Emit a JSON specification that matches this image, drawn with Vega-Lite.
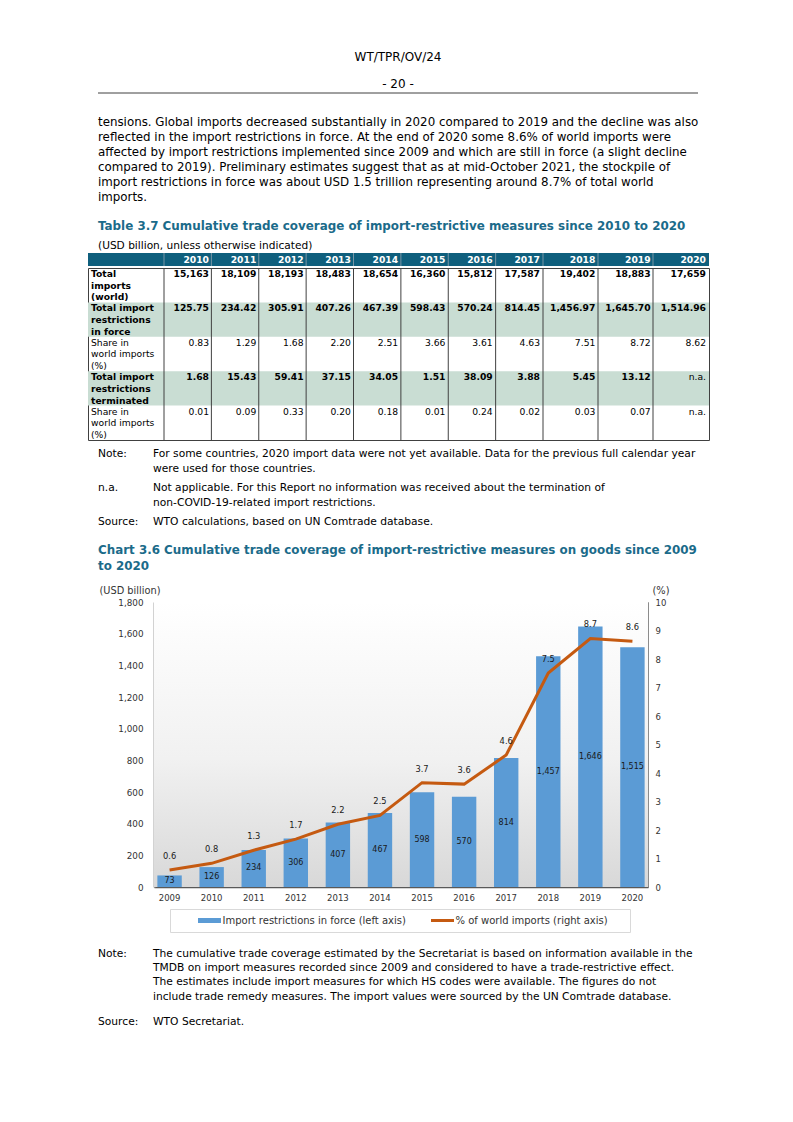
{
  "$schema": "https://vega.github.io/schema/vega-lite/v6.json",
  "background": "white",
  "padding": {"left": 87, "top": 0, "right": 0, "bottom": 0},
  "spacing": 0,
  "config": {
    "font": "DejaVu Sans",
    "view": {"stroke": null},
    "concat": {"spacing": 0},
    "text": {"font": "DejaVu Sans"}
  },
  "datasets": {
    "blank": [{}],
    "page": [
      {"block": "hdr", "line": 0, "part": "body", "text": "WT/TPR/OV/24"},
      {"block": "hdr", "line": 1, "part": "body", "text": "- 20 -"},
      {"block": "para", "line": 0, "part": "body", "text": "tensions. Global imports decreased substantially in 2020 compared to 2019 and the decline was also"},
      {"block": "para", "line": 1, "part": "body", "text": "reflected in the import restrictions in force. At the end of 2020 some 8.6% of world imports were"},
      {"block": "para", "line": 2, "part": "body", "text": "affected by import restrictions implemented since 2009 and which are still in force (a slight decline"},
      {"block": "para", "line": 3, "part": "body", "text": "compared to 2019). Preliminary estimates suggest that as at mid-October 2021, the stockpile of"},
      {"block": "para", "line": 4, "part": "body", "text": "import restrictions in force was about USD 1.5 trillion representing around 8.7% of total world"},
      {"block": "para", "line": 5, "part": "body", "text": "imports."},
      {"block": "ttitle", "line": 0, "part": "body", "text": "Table 3.7 Cumulative trade coverage of import-restrictive measures since 2010 to 2020"},
      {"block": "units", "line": 0, "part": "body", "text": "(USD billion, unless otherwise indicated)"},
      {"block": "n1", "line": 0, "part": "label", "text": "Note:"},
      {"block": "n1", "line": 0, "part": "body", "text": "For some countries, 2020 import data were not yet available. Data for the previous full calendar year"},
      {"block": "n1", "line": 1, "part": "body", "text": "were used for those countries."},
      {"block": "n2", "line": 0, "part": "label", "text": "n.a."},
      {"block": "n2", "line": 0, "part": "body", "text": "Not applicable. For this Report no information was received about the termination of"},
      {"block": "n2", "line": 1, "part": "body", "text": "non-COVID-19-related import restrictions."},
      {"block": "n3", "line": 0, "part": "label", "text": "Source:"},
      {"block": "n3", "line": 0, "part": "body", "text": "WTO calculations, based on UN Comtrade database."},
      {"block": "ctitle", "line": 0, "part": "body", "text": "Chart 3.6 Cumulative trade coverage of import-restrictive measures on goods since 2009"},
      {"block": "ctitle", "line": 1, "part": "body", "text": "to 2020"},
      {"block": "cn1", "line": 0, "part": "label", "text": "Note:"},
      {"block": "cn1", "line": 0, "part": "body", "text": "The cumulative trade coverage estimated by the Secretariat is based on information available in the"},
      {"block": "cn1", "line": 1, "part": "body", "text": "TMDB on import measures recorded since 2009 and considered to have a trade-restrictive effect."},
      {"block": "cn1", "line": 2, "part": "body", "text": "The estimates include import measures for which HS codes were available. The figures do not"},
      {"block": "cn1", "line": 3, "part": "body", "text": "include trade remedy measures. The import values were sourced by the UN Comtrade database."},
      {"block": "cn2", "line": 0, "part": "label", "text": "Source:"},
      {"block": "cn2", "line": 0, "part": "body", "text": "WTO Secretariat."}
    ],
    "years": [
      {"year": 2010}, {"year": 2011}, {"year": 2012}, {"year": 2013}, {"year": 2014}, {"year": 2015},
      {"year": 2016}, {"year": 2017}, {"year": 2018}, {"year": 2019}, {"year": 2020}
    ],
    "tableRows": [
      {"row": "r1", "metric": "imports", "label": "Total\nimports\n(world)"},
      {"row": "r2", "metric": "restrictions", "label": "Total import\nrestrictions\nin force"},
      {"row": "r3", "metric": "share", "label": "Share in\nworld imports\n(%)"},
      {"row": "r4", "metric": "restrictions", "label": "Total import\nrestrictions\nterminated"},
      {"row": "r5", "metric": "share", "label": "Share in\nworld imports\n(%)"}
    ],
    "tableCells": [
      {"row": "r1", "year": 2010, "value": "15,163"}, {"row": "r1", "year": 2011, "value": "18,109"}, {"row": "r1", "year": 2012, "value": "18,193"}, {"row": "r1", "year": 2013, "value": "18,483"}, {"row": "r1", "year": 2014, "value": "18,654"}, {"row": "r1", "year": 2015, "value": "16,360"}, {"row": "r1", "year": 2016, "value": "15,812"}, {"row": "r1", "year": 2017, "value": "17,587"}, {"row": "r1", "year": 2018, "value": "19,402"}, {"row": "r1", "year": 2019, "value": "18,883"}, {"row": "r1", "year": 2020, "value": "17,659"},
      {"row": "r2", "year": 2010, "value": "125.75"}, {"row": "r2", "year": 2011, "value": "234.42"}, {"row": "r2", "year": 2012, "value": "305.91"}, {"row": "r2", "year": 2013, "value": "407.26"}, {"row": "r2", "year": 2014, "value": "467.39"}, {"row": "r2", "year": 2015, "value": "598.43"}, {"row": "r2", "year": 2016, "value": "570.24"}, {"row": "r2", "year": 2017, "value": "814.45"}, {"row": "r2", "year": 2018, "value": "1,456.97"}, {"row": "r2", "year": 2019, "value": "1,645.70"}, {"row": "r2", "year": 2020, "value": "1,514.96"},
      {"row": "r3", "year": 2010, "value": "0.83"}, {"row": "r3", "year": 2011, "value": "1.29"}, {"row": "r3", "year": 2012, "value": "1.68"}, {"row": "r3", "year": 2013, "value": "2.20"}, {"row": "r3", "year": 2014, "value": "2.51"}, {"row": "r3", "year": 2015, "value": "3.66"}, {"row": "r3", "year": 2016, "value": "3.61"}, {"row": "r3", "year": 2017, "value": "4.63"}, {"row": "r3", "year": 2018, "value": "7.51"}, {"row": "r3", "year": 2019, "value": "8.72"}, {"row": "r3", "year": 2020, "value": "8.62"},
      {"row": "r4", "year": 2010, "value": "1.68"}, {"row": "r4", "year": 2011, "value": "15.43"}, {"row": "r4", "year": 2012, "value": "59.41"}, {"row": "r4", "year": 2013, "value": "37.15"}, {"row": "r4", "year": 2014, "value": "34.05"}, {"row": "r4", "year": 2015, "value": "1.51"}, {"row": "r4", "year": 2016, "value": "38.09"}, {"row": "r4", "year": 2017, "value": "3.88"}, {"row": "r4", "year": 2018, "value": "5.45"}, {"row": "r4", "year": 2019, "value": "13.12"}, {"row": "r4", "year": 2020, "value": "n.a."},
      {"row": "r5", "year": 2010, "value": "0.01"}, {"row": "r5", "year": 2011, "value": "0.09"}, {"row": "r5", "year": 2012, "value": "0.33"}, {"row": "r5", "year": 2013, "value": "0.20"}, {"row": "r5", "year": 2014, "value": "0.18"}, {"row": "r5", "year": 2015, "value": "0.01"}, {"row": "r5", "year": 2016, "value": "0.24"}, {"row": "r5", "year": 2017, "value": "0.02"}, {"row": "r5", "year": 2018, "value": "0.03"}, {"row": "r5", "year": 2019, "value": "0.07"}, {"row": "r5", "year": 2020, "value": "n.a."}
    ],
    "chart": [
      {"year": "2009", "restrictions": 73, "share": 0.6},
      {"year": "2010", "restrictions": 125.75, "share": 0.83},
      {"year": "2011", "restrictions": 234.42, "share": 1.29},
      {"year": "2012", "restrictions": 305.91, "share": 1.68},
      {"year": "2013", "restrictions": 407.26, "share": 2.2},
      {"year": "2014", "restrictions": 467.39, "share": 2.51},
      {"year": "2015", "restrictions": 598.43, "share": 3.66},
      {"year": "2016", "restrictions": 570.24, "share": 3.61},
      {"year": "2017", "restrictions": 814.45, "share": 4.63},
      {"year": "2018", "restrictions": 1456.97, "share": 7.51},
      {"year": "2019", "restrictions": 1645.7, "share": 8.72},
      {"year": "2020", "restrictions": 1514.96, "share": 8.62}
    ],
    "legend": [
      {"item": "Import restrictions in force (left axis)"},
      {"item": "% of world imports (right axis)"}
    ]
  },
  "vconcat": [
    {
      "width": 620, "height": 252,
      "data": {"name": "page"},
      "resolve": {"scale": {"x": "independent", "y": "independent"}},
      "layer": [
        {
          "transform": [{"filter": "datum.block == 'hdr'"}],
          "mark": {"type": "text", "fontSize": 12, "color": "#000000", "baseline": "middle"},
          "encoding": {
            "y": {"field": "line", "type": "ordinal", "scale": {"type": "point", "domain": [0, 1], "range": [57, 84], "padding": 0}, "axis": null},
            "text": {"field": "text"}
          }
        },
        {
          "data": {"name": "blank"},
          "mark": {"type": "rule", "color": "#404040", "strokeWidth": 1},
          "encoding": {
            "x": {"datum": 0, "type": "quantitative", "scale": {"domain": [0, 1], "range": [10, 610], "nice": false, "zero": false}, "axis": null},
            "x2": {"datum": 1},
            "y": {"datum": 0, "type": "quantitative", "scale": {"domain": [0, 1], "range": [93, 94], "nice": false, "zero": false}, "axis": null}
          }
        },
        {
          "transform": [{"filter": "datum.block == 'para'"}],
          "mark": {"type": "text", "fontSize": 11.85, "color": "#000000", "align": "left", "baseline": "middle"},
          "encoding": {
            "x": {"field": "part", "type": "nominal", "scale": {"type": "point", "domain": ["body"], "range": [10, 10], "padding": 0}, "axis": null},
            "y": {"field": "line", "type": "ordinal", "scale": {"type": "point", "domain": [0, 1, 2, 3, 4, 5], "range": [122, 197], "padding": 0}, "axis": null},
            "text": {"field": "text"}
          }
        },
        {
          "transform": [{"filter": "datum.block == 'ttitle'"}],
          "mark": {"type": "text", "fontSize": 11.9, "fontWeight": "bold", "color": "#1b6b8a", "align": "left", "baseline": "middle"},
          "encoding": {
            "x": {"field": "part", "type": "nominal", "scale": {"type": "point", "domain": ["body"], "range": [10, 10], "padding": 0}, "axis": null},
            "y": {"field": "line", "type": "ordinal", "scale": {"type": "point", "domain": [0], "range": [226, 226], "padding": 0}, "axis": null},
            "text": {"field": "text"}
          }
        },
        {
          "transform": [{"filter": "datum.block == 'units'"}],
          "mark": {"type": "text", "fontSize": 10.6, "color": "#000000", "align": "left", "baseline": "middle"},
          "encoding": {
            "x": {"field": "part", "type": "nominal", "scale": {"type": "point", "domain": ["body"], "range": [10, 10], "padding": 0}, "axis": null},
            "y": {"field": "line", "type": "ordinal", "scale": {"type": "point", "domain": [0], "range": [246.3, 246.3], "padding": 0}, "axis": null},
            "text": {"field": "text"}
          }
        }
      ]
    },
    {
      "width": 621, "height": 13,
      "data": {"name": "years"},
      "view": {"fill": "#0f5f7d", "stroke": null},
      "resolve": {"scale": {"x": "independent"}},
      "layer": [
        {
          "mark": {"type": "rule", "color": "#7896a6", "strokeWidth": 1},
          "encoding": {
            "x": {"field": "year", "type": "quantitative", "scale": {"domain": [2010, 2018, 2020], "range": [76, 455, 565], "nice": false, "zero": false}, "axis": null}
          }
        },
        {
          "mark": {"type": "text", "align": "right", "baseline": "middle", "dx": -3, "fontSize": 9.2, "fontWeight": "bold", "color": "#ffffff"},
          "encoding": {
            "x": {"field": "year", "type": "quantitative", "scale": {"domain": [2010, 2017, 2020], "range": [124, 455, 621], "nice": false, "zero": false}, "axis": null},
            "text": {"field": "year", "type": "nominal"}
          }
        }
      ]
    },
    {
      "width": 621, "height": 172,
      "view": {"stroke": "#404040", "strokeWidth": 1},
      "resolve": {"scale": {"x": "independent"}},
      "layer": [
        {
          "data": {"name": "tableRows"},
          "transform": [{"filter": "datum.metric == 'restrictions'"}],
          "mark": {"type": "rect", "color": "#c9ddd3"},
          "encoding": {
            "y": {"field": "row", "type": "nominal", "scale": {"type": "band", "domain": ["r1", "r2", "r3", "r4", "r5"], "paddingInner": 0, "paddingOuter": 0}, "axis": null}
          }
        },
        {
          "data": {"name": "years"},
          "mark": {"type": "rule", "color": "#404040", "strokeWidth": 1},
          "encoding": {
            "x": {"field": "year", "type": "quantitative", "scale": {"domain": [2010, 2018, 2020], "range": [76, 455, 565], "nice": false, "zero": false}, "axis": null}
          }
        },
        {
          "data": {"name": "tableRows"},
          "transform": [{"filter": "datum.metric != 'share'"}],
          "mark": {"type": "text", "align": "left", "baseline": "top", "dx": 3, "dy": 2, "fontSize": 9.2, "fontWeight": "bold", "lineBreak": "\n", "lineHeight": 11.7, "color": "#000000"},
          "encoding": {
            "x": {"datum": 2009, "type": "quantitative", "scale": {"domain": [2009, 2010, 2018, 2020], "range": [0, 76, 455, 565], "nice": false, "zero": false}, "axis": null},
            "y": {"field": "row", "type": "nominal", "bandPosition": 0, "scale": {"type": "band", "domain": ["r1", "r2", "r3", "r4", "r5"], "paddingInner": 0, "paddingOuter": 0}, "axis": null},
            "text": {"field": "label"}
          }
        },
        {
          "data": {"name": "tableRows"},
          "transform": [{"filter": "datum.metric == 'share'"}],
          "mark": {"type": "text", "align": "left", "baseline": "top", "dx": 3, "dy": 2, "fontSize": 9.2, "lineBreak": "\n", "lineHeight": 11.7, "color": "#000000"},
          "encoding": {
            "x": {"datum": 2009, "type": "quantitative", "scale": {"domain": [2009, 2010, 2018, 2020], "range": [0, 76, 455, 565], "nice": false, "zero": false}, "axis": null},
            "y": {"field": "row", "type": "nominal", "bandPosition": 0, "scale": {"type": "band", "domain": ["r1", "r2", "r3", "r4", "r5"], "paddingInner": 0, "paddingOuter": 0}, "axis": null},
            "text": {"field": "label"}
          }
        },
        {
          "data": {"name": "tableCells"},
          "transform": [{"filter": "datum.row != 'r3' && datum.row != 'r5' && datum.value != 'n.a.'"}],
          "mark": {"type": "text", "align": "right", "baseline": "top", "dx": -3, "dy": 2, "fontSize": 9.2, "fontWeight": "bold", "color": "#000000"},
          "encoding": {
            "x": {"field": "year", "type": "quantitative", "scale": {"domain": [2010, 2017, 2020], "range": [124, 455, 621], "nice": false, "zero": false}, "axis": null},
            "y": {"field": "row", "type": "nominal", "bandPosition": 0, "scale": {"type": "band", "domain": ["r1", "r2", "r3", "r4", "r5"], "paddingInner": 0, "paddingOuter": 0}, "axis": null},
            "text": {"field": "value"}
          }
        },
        {
          "data": {"name": "tableCells"},
          "transform": [{"filter": "datum.row == 'r3' || datum.row == 'r5' || datum.value == 'n.a.'"}],
          "mark": {"type": "text", "align": "right", "baseline": "top", "dx": -3, "dy": 2, "fontSize": 9.2, "color": "#000000"},
          "encoding": {
            "x": {"field": "year", "type": "quantitative", "scale": {"domain": [2010, 2017, 2020], "range": [124, 455, 621], "nice": false, "zero": false}, "axis": null},
            "y": {"field": "row", "type": "nominal", "bandPosition": 0, "scale": {"type": "band", "domain": ["r1", "r2", "r3", "r4", "r5"], "paddingInner": 0, "paddingOuter": 0}, "axis": null},
            "text": {"field": "value"}
          }
        }
      ]
    },
    {
      "width": 620, "height": 143,
      "data": {"name": "page"},
      "resolve": {"scale": {"x": "independent", "y": "independent"}},
      "layer": [
        {
          "transform": [{"filter": "datum.block == 'n1'"}],
          "mark": {"type": "text", "fontSize": 10.7, "color": "#000000", "align": "left", "baseline": "middle"},
          "encoding": {
            "x": {"field": "part", "type": "nominal", "scale": {"type": "point", "domain": ["label", "body"], "range": [10, 65], "padding": 0}, "axis": null},
            "y": {"field": "line", "type": "ordinal", "scale": {"type": "point", "domain": [0, 1], "range": [13, 28], "padding": 0}, "axis": null},
            "text": {"field": "text"}
          }
        },
        {
          "transform": [{"filter": "datum.block == 'n2'"}],
          "mark": {"type": "text", "fontSize": 10.7, "color": "#000000", "align": "left", "baseline": "middle"},
          "encoding": {
            "x": {"field": "part", "type": "nominal", "scale": {"type": "point", "domain": ["label", "body"], "range": [10, 65], "padding": 0}, "axis": null},
            "y": {"field": "line", "type": "ordinal", "scale": {"type": "point", "domain": [0, 1], "range": [47, 62], "padding": 0}, "axis": null},
            "text": {"field": "text"}
          }
        },
        {
          "transform": [{"filter": "datum.block == 'n3'"}],
          "mark": {"type": "text", "fontSize": 10.7, "color": "#000000", "align": "left", "baseline": "middle"},
          "encoding": {
            "x": {"field": "part", "type": "nominal", "scale": {"type": "point", "domain": ["label", "body"], "range": [10, 65], "padding": 0}, "axis": null},
            "y": {"field": "line", "type": "ordinal", "scale": {"type": "point", "domain": [0], "range": [81, 81], "padding": 0}, "axis": null},
            "text": {"field": "text"}
          }
        },
        {
          "transform": [{"filter": "datum.block == 'ctitle'"}],
          "mark": {"type": "text", "fontSize": 11.9, "fontWeight": "bold", "color": "#1b6b8a", "align": "left", "baseline": "middle"},
          "encoding": {
            "x": {"field": "part", "type": "nominal", "scale": {"type": "point", "domain": ["body"], "range": [10, 10], "padding": 0}, "axis": null},
            "y": {"field": "line", "type": "ordinal", "scale": {"type": "point", "domain": [0, 1], "range": [109, 125], "padding": 0}, "axis": null},
            "text": {"field": "text"}
          }
        }
      ]
    },
    {
      "spacing": 0,
      "hconcat": [
        {
          "width": 10, "height": 1,
          "data": {"name": "blank"},
          "mark": {"type": "rect", "opacity": 0},
          "encoding": {}
        },
        {
          "width": 494, "height": 285,
          "data": {"name": "chart"},
          "view": {"stroke": "#8c8c8c", "strokeWidth": 1},
          "resolve": {"scale": {"y": "independent"}},
          "layer": [
            {
              "data": {"name": "blank"},
              "mark": {"type": "rect", "color": {"gradient": "linear", "x1": 0, "y1": 0, "x2": 0, "y2": 1, "stops": [{"offset": 0, "color": "#ffffff"}, {"offset": 0.55, "color": "#f1f1f1"}, {"offset": 1, "color": "#d8d8d8"}]}},
              "encoding": {}
            },
            {
              "mark": {"type": "bar", "color": "#5b9bd5"},
              "encoding": {
                "x": {"field": "year", "type": "ordinal", "scale": {"paddingInner": 0.42, "paddingOuter": 0.08}, "axis": {"labelAngle": 0, "labelFontSize": 8.5, "labelColor": "#333333", "labelPadding": 6.5, "ticks": false, "tickSize": 0, "domainColor": "#595959", "domainWidth": 1.5, "title": null, "grid": false}},
                "y": {"field": "restrictions", "type": "quantitative", "scale": {"domain": [0, 1800], "nice": false}, "axis": {"orient": "left", "values": [0, 200, 400, 600, 800, 1000, 1200, 1400, 1600, 1800], "format": ",d", "labelFontSize": 8.8, "labelColor": "#333333", "labelPadding": 11, "ticks": false, "tickSize": 0, "grid": false, "domain": true, "domainColor": "#a6a6a6", "domainWidth": 2, "title": "(USD billion)", "titleAngle": 0, "titleAlign": "left", "titleBaseline": "middle", "titleX": -55, "titleY": -12, "titleFontSize": 9.8, "titleFontWeight": "normal", "titleColor": "#333333"}}
              }
            },
            {
              "mark": {"type": "text", "fontSize": 8, "color": "#1a1a1a", "baseline": "middle"},
              "encoding": {
                "x": {"field": "year", "type": "ordinal", "scale": {"paddingInner": 0.42, "paddingOuter": 0.08}},
                "y": {"field": "restrictions", "type": "quantitative", "scale": {"domain": [0, 3600], "nice": false}, "axis": null},
                "text": {"field": "restrictions", "type": "quantitative", "format": ",.0f"}
              }
            },
            {
              "mark": {"type": "line", "color": "#c55a11", "strokeWidth": 3},
              "encoding": {
                "x": {"field": "year", "type": "ordinal", "scale": {"paddingInner": 0.42, "paddingOuter": 0.08}},
                "y": {"field": "share", "type": "quantitative", "scale": {"domain": [0, 10], "nice": false}, "axis": {"orient": "right", "values": [0, 1, 2, 3, 4, 5, 6, 7, 8, 9, 10], "labelFontSize": 8.5, "labelColor": "#333333", "labelPadding": 7, "ticks": false, "tickSize": 0, "domain": false, "grid": false, "title": "(%)", "titleAngle": 0, "titleAlign": "left", "titleBaseline": "middle", "titleX": 4, "titleY": -12, "titleFontSize": 9.8, "titleFontWeight": "normal", "titleColor": "#333333"}}
              }
            },
            {
              "mark": {"type": "text", "fontSize": 8.3, "color": "#1a1a1a", "baseline": "middle", "dy": -13},
              "encoding": {
                "x": {"field": "year", "type": "ordinal", "scale": {"paddingInner": 0.42, "paddingOuter": 0.08}},
                "y": {"field": "share", "type": "quantitative", "scale": {"domain": [0, 10], "nice": false}, "axis": null},
                "text": {"field": "share", "type": "quantitative", "format": ".1f"}
              }
            }
          ]
        }
      ]
    },
    {
      "width": 1, "height": 5,
      "data": {"name": "blank"},
      "mark": {"type": "rect", "opacity": 0},
      "encoding": {}
    },
    {
      "spacing": 0,
      "hconcat": [
        {
          "width": 81, "height": 1,
          "data": {"name": "blank"},
          "mark": {"type": "rect", "opacity": 0},
          "encoding": {}
        },
        {
          "width": 460, "height": 23,
          "data": {"name": "legend"},
          "view": {"fill": "#ffffff", "stroke": "#d9d9d9"},
          "layer": [
            {
              "mark": {"type": "point", "filled": true, "size": 529, "opacity": 1, "strokeWidth": 0},
              "encoding": {
                "x": {"field": "item", "type": "nominal", "scale": {"type": "point", "domain": ["Import restrictions in force (left axis)", "% of world imports (right axis)"], "range": [39.5, 272.5], "padding": 0}, "axis": null},
                "shape": {"field": "item", "type": "nominal", "scale": {"domain": ["Import restrictions in force (left axis)", "% of world imports (right axis)"], "range": ["M-1,-0.22H1V0.22H-1Z", "M-1,-0.13H1V0.13H-1Z"]}, "legend": null},
                "color": {"field": "item", "type": "nominal", "scale": {"domain": ["Import restrictions in force (left axis)", "% of world imports (right axis)"], "range": ["#5b9bd5", "#c55a11"]}, "legend": null}
              }
            },
            {
              "mark": {"type": "text", "align": "left", "baseline": "middle", "dx": 13, "fontSize": 10, "color": "#333333"},
              "encoding": {
                "x": {"field": "item", "type": "nominal", "scale": {"type": "point", "domain": ["Import restrictions in force (left axis)", "% of world imports (right axis)"], "range": [39.5, 272.5], "padding": 0}, "axis": null},
                "text": {"field": "item"}
              }
            }
          ]
        }
      ]
    },
    {
      "width": 620, "height": 190,
      "data": {"name": "page"},
      "resolve": {"scale": {"x": "independent", "y": "independent"}},
      "layer": [
        {
          "transform": [{"filter": "datum.block == 'cn1'"}],
          "mark": {"type": "text", "fontSize": 10.7, "color": "#000000", "align": "left", "baseline": "middle"},
          "encoding": {
            "x": {"field": "part", "type": "nominal", "scale": {"type": "point", "domain": ["label", "body"], "range": [10, 65], "padding": 0}, "axis": null},
            "y": {"field": "line", "type": "ordinal", "scale": {"type": "point", "domain": [0, 1, 2, 3], "range": [20.5, 63.5], "padding": 0}, "axis": null},
            "text": {"field": "text"}
          }
        },
        {
          "transform": [{"filter": "datum.block == 'cn2'"}],
          "mark": {"type": "text", "fontSize": 10.7, "color": "#000000", "align": "left", "baseline": "middle"},
          "encoding": {
            "x": {"field": "part", "type": "nominal", "scale": {"type": "point", "domain": ["label", "body"], "range": [10, 65], "padding": 0}, "axis": null},
            "y": {"field": "line", "type": "ordinal", "scale": {"type": "point", "domain": [0], "range": [88.5, 88.5], "padding": 0}, "axis": null},
            "text": {"field": "text"}
          }
        }
      ]
    }
  ]
}
